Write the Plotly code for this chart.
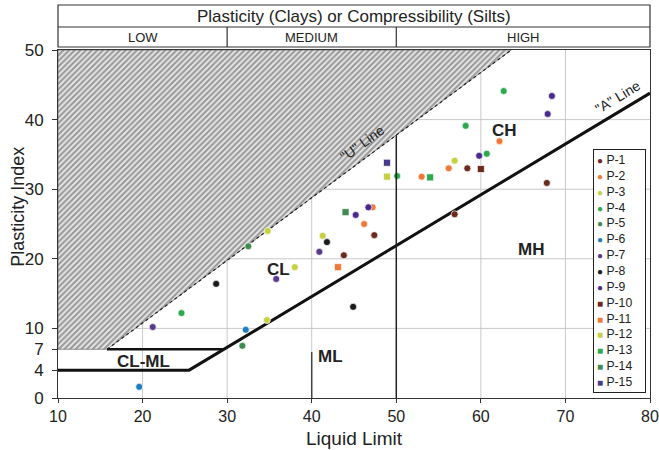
import plotly.graph_objects as go

# ---------------- data ----------------
series_names = ["P-1", "P-2", "P-3", "P-4", "P-5", "P-6", "P-7", "P-8",
                "P-9", "P-10", "P-11", "P-12", "P-13", "P-14", "P-15"]
series_colors = ["#6B2A1E", "#F0793A", "#C5D143", "#2CA94C", "#3E8C50", "#1F7DBE",
                 "#5A3A8C", "#1A1A1A", "#4A2A8C", "#6B2A1E", "#F0793A", "#C5D143",
                 "#2CA94C", "#3E8C50", "#4A3A8C"]
series_symbols = ["circle"] * 9 + ["square"] * 6

ll_values = [
    [43.8, 47.4, 56.9, 58.4, 67.8],          # P-1
    [46.2, 47.2, 53.0, 56.2, 62.2],          # P-2
    [34.7, 34.8, 38.0, 41.3, 56.9],          # P-3
    [24.6, 50.1, 58.2, 60.7, 62.7],          # P-4
    [31.8, 32.5],                            # P-5
    [19.6, 32.2],                            # P-6
    [21.2, 35.8, 40.9],                      # P-7
    [28.7, 41.8, 44.9],                      # P-8
    [45.2, 46.7, 59.8, 67.9, 68.4],          # P-9
    [60.0],                                  # P-10
    [43.1],                                  # P-11
    [48.9],                                  # P-12
    [54.0],                                  # P-13
    [44.0],                                  # P-14
    [48.9],                                  # P-15
]
pi_values = [
    [20.5, 23.4, 26.4, 33.0, 30.9],
    [25.0, 27.4, 31.8, 33.0, 36.9],
    [11.2, 24.0, 18.8, 23.3, 34.1],
    [12.2, 31.9, 39.1, 35.1, 44.1],
    [7.5, 21.8],
    [1.6, 9.8],
    [10.2, 17.1, 21.0],
    [16.4, 22.4, 13.1],
    [26.3, 27.4, 34.8, 40.8, 43.4],
    [32.9],
    [18.8],
    [31.8],
    [31.7],
    [26.7],
    [33.8],
]

x_ticks = [10, 20, 30, 40, 50, 60, 70, 80]
y_ticks = [0, 4, 7, 10, 20, 30, 40, 50]
x_grid = [20, 30, 40, 60, 70]
y_grid = [10, 20, 30, 40]

# Casagrande chart lines
u_line_x = [15.8, 63.6]
u_line_y = [7, 50]
hatch_x = [10, 15.8, 63.6, 10, 10]
hatch_y = [7, 7, 50, 50, 7]
a_line_x = [10, 25.5, 80]
a_line_y = [4, 4, 43.8]
clml_top_x = [15.8, 29.6]
clml_top_y = [7, 7]

FONT = "Liberation Sans, Arial, sans-serif"

fig = go.Figure()

# hatched region above the U line
fig.add_trace(go.Scatter(
    x=hatch_x, y=hatch_y, mode="lines", fill="toself",
    line=dict(color="#777", width=0.8),
    fillcolor="rgba(0,0,0,0)",
    fillpattern=dict(shape="/", fgcolor="#474747", bgcolor="#e6e6e6",
                     size=4, solidity=0.5),
    showlegend=False, hoverinfo="skip"))

# U line (dashed)
fig.add_trace(go.Scatter(x=u_line_x, y=u_line_y, mode="lines",
                         line=dict(color="#222", width=1.2, dash="dot"),
                         showlegend=False, hoverinfo="skip"))
# A line with the CL-ML bottom
fig.add_trace(go.Scatter(x=a_line_x, y=a_line_y, mode="lines",
                         line=dict(color="#111", width=3),
                         showlegend=False, hoverinfo="skip"))
# CL-ML top
fig.add_trace(go.Scatter(x=clml_top_x, y=clml_top_y, mode="lines",
                         line=dict(color="#111", width=2.5),
                         showlegend=False, hoverinfo="skip"))

# data series
for name, col, sym, xs, ys in zip(series_names, series_colors, series_symbols,
                                   ll_values, pi_values):
    fig.add_trace(go.Scatter(
        x=xs, y=ys, mode="markers", name=name, showlegend=False,
        marker=dict(color=col, symbol=sym, size=7,
                    line=dict(color="rgba(255,255,255,0.7)", width=1))))

shapes = []
for gx in x_grid:
    shapes.append(dict(type="line", xref="x", yref="y", x0=gx, x1=gx, y0=0, y1=50,
                       line=dict(color="#c8c8c8", width=1), layer="below"))
for gy in y_grid:
    shapes.append(dict(type="line", xref="x", yref="y", x0=10, x1=80, y0=gy, y1=gy,
                       line=dict(color="#c8c8c8", width=1), layer="below"))
# L / H divider and ML divider
shapes.append(dict(type="line", xref="x", yref="y", x0=50, x1=50, y0=0, y1=37.8,
                   line=dict(color="#222", width=1.5)))
shapes.append(dict(type="line", xref="x", yref="y", x0=40, x1=40, y0=0, y1=6.6,
                   line=dict(color="#444", width=1.5)))
# header box
hdr_bot, hdr_mid, hdr_top = 1.0086, 1.0661, 1.1293
shapes.append(dict(type="rect", xref="paper", yref="paper", x0=0, x1=1,
                   y0=hdr_bot, y1=hdr_top, line=dict(color="#333", width=1.2)))
shapes.append(dict(type="line", xref="paper", yref="paper", x0=0, x1=1,
                   y0=hdr_mid, y1=hdr_mid, line=dict(color="#333", width=1.2)))
for dx in [30, 50]:
    shapes.append(dict(type="line", xref="x", yref="paper", x0=dx, x1=dx,
                       y0=hdr_bot, y1=hdr_mid, line=dict(color="#333", width=1.2)))

ann = []
ann.append(dict(text="Plasticity (Clays) or Compressibility (Silts)", xref="paper",
                yref="paper", x=0.5, y=(hdr_mid + hdr_top) / 2, showarrow=False,
                xanchor="center", yanchor="middle",
                font=dict(size=17, color="#222", family=FONT)))
for t, xv in [("LOW", 20), ("MEDIUM", 40), ("HIGH", 65)]:
    ann.append(dict(text=t, xref="x", yref="paper", x=xv, y=(hdr_bot + hdr_mid) / 2,
                    xanchor="center", yanchor="middle", showarrow=False,
                    font=dict(size=13, color="#222", family=FONT)))
for t, xv, yv in [("CH", 62.8, 38.4), ("CL", 36.1, 18.4), ("CL-ML", 20.1, 5.3),
                  ("ML", 42.2, 5.9), ("MH", 65.9, 21.4)]:
    ann.append(dict(text="<b>%s</b>" % t, x=xv, y=yv, showarrow=False,
                    xanchor="center", yanchor="middle",
                    font=dict(size=17, color="#222", family=FONT)))
ann.append(dict(text='"U" Line', x=46.0, y=36.6, showarrow=False, textangle=-36,
                xanchor="center", yanchor="middle",
                font=dict(size=14, color="#222", family=FONT)))
ann.append(dict(text='"A" Line', x=76.2, y=43.2, showarrow=False, textangle=-31,
                xanchor="center", yanchor="middle",
                font=dict(size=14, color="#222", family=FONT)))
ann.append(dict(text="Liquid Limit", xref="paper", yref="paper", x=0.5, y=-0.116,
                xanchor="center", yanchor="middle", showarrow=False,
                font=dict(size=19, color="#222", family=FONT)))
ann.append(dict(text="Plasticity Index", xref="paper", yref="paper", x=-0.068,
                y=0.549, xanchor="center", yanchor="middle", textangle=-90,
                showarrow=False, font=dict(size=18, color="#222", family=FONT)))

# legend (built from the series lists)
glyph = {"circle": "\u25CF", "square": "\u25A0"}
legend_lines = []
for name, col, sym in zip(series_names, series_colors, series_symbols):
    legend_lines.append('<span style="color:%s;font-size:10px">%s</span> %s'
                        % (col, glyph[sym], name))
ann.append(dict(text="<br>".join(legend_lines), xref="paper", yref="paper",
                x=0.903, y=0.7155, xanchor="left", yanchor="top", align="left",
                showarrow=False, bgcolor="white", bordercolor="#222",
                borderwidth=1, borderpad=3, width=45,
                font=dict(size=12.2, color="#222", family=FONT)))

fig.update_layout(
    width=659, height=450,
    margin=dict(l=58, r=9, t=50, b=52, autoexpand=False),
    paper_bgcolor="white", plot_bgcolor="white",
    font=dict(family=FONT, color="#222"),
    shapes=shapes, annotations=ann, showlegend=False,
    xaxis=dict(range=[10, 80], tickvals=x_ticks, showgrid=False, zeroline=False,
               showline=True, linecolor="#333", linewidth=1, mirror=True,
               ticks="outside", ticklen=4, tickcolor="#333", automargin=False,
               ticklabelstandoff=0, ticklabeloverflow="allow",
               tickfont=dict(size=16, color="#222", family=FONT)),
    yaxis=dict(range=[0, 50], tickvals=y_ticks, showgrid=False, zeroline=False,
               showline=True, linecolor="#333", linewidth=1, mirror=True,
               ticks="outside", ticklen=5, tickcolor="#333", automargin=False,
               ticklabelstandoff=5,
               tickfont=dict(size=17, color="#222", family=FONT)),
)

fig.write_html("out.html")
